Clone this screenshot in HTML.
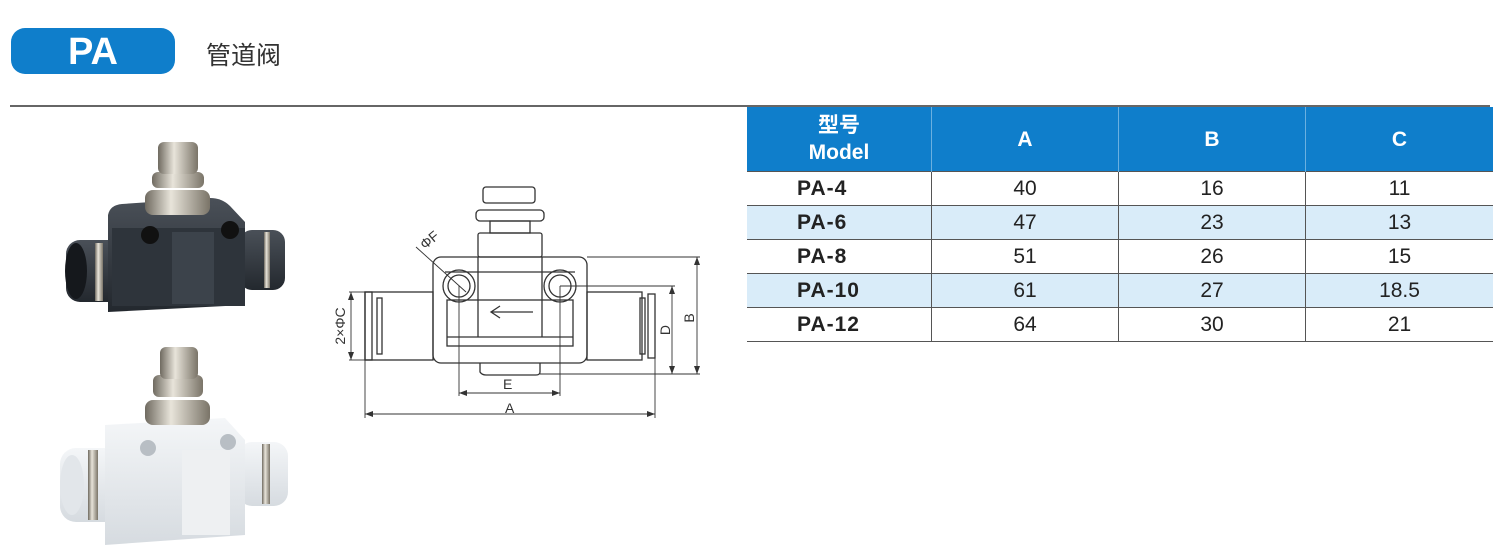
<!DOCTYPE html>
<html><head><meta charset="utf-8"><style>
body{margin:0;width:1500px;height:553px;background:#fff;position:relative;overflow:hidden;font-family:"Liberation Sans","Noto Sans CJK SC",sans-serif}
.pill{position:absolute;left:11px;top:28px;width:164px;height:46px;background:#0f7ecb;border-radius:14px;color:#fff;font-weight:bold;font-size:38px;text-align:center;line-height:48px}
.ttl{position:absolute;left:206px;top:36px;font-size:25px;color:#333}
.hr{position:absolute;left:10px;top:105px;width:1480px;height:2px;background:#666}
table{position:absolute;left:747px;top:107px;width:743px;table-layout:fixed;border-collapse:collapse;font-size:21px;color:#222}
td{border-left:1px solid #555;text-align:center;height:33px;padding:0}
td:first-child{border-left:none;font-weight:bold;text-align:left;padding-left:50px;letter-spacing:1px}
tr{border-bottom:1px solid #555}
th{background:#0f7ecb;color:#fff;font-size:21px;height:64px;border-left:1px solid #6ab0e0;font-weight:bold;line-height:27px;padding:0}
th:first-child{border-left:none}
tr.b{background:#d9ecf9}
</style></head><body>
<div class="pill">PA</div>
<div class="ttl">管道阀</div>
<div class="hr"></div>
<table>
<tr><th style="width:184px">型号<br>Model</th><th style="width:186px">A</th><th style="width:186px">B</th><th style="width:187px">C</th></tr>
<tr><td>PA-4</td><td>40</td><td>16</td><td>11</td></tr>
<tr class="b"><td>PA-6</td><td>47</td><td>23</td><td>13</td></tr>
<tr><td>PA-8</td><td>51</td><td>26</td><td>15</td></tr>
<tr class="b"><td>PA-10</td><td>61</td><td>27</td><td>18.5</td></tr>
<tr><td>PA-12</td><td>64</td><td>30</td><td>21</td></tr>
</table>

<svg width="1500" height="553" style="position:absolute;left:0;top:0">
<defs>
<linearGradient id="met" x1="0" x2="1"><stop offset="0" stop-color="#6f6a60"/><stop offset=".4" stop-color="#e8e4da"/><stop offset="1" stop-color="#7a7468"/></linearGradient>
<linearGradient id="dk" x1="0" y1="0" x2="0" y2="1"><stop offset="0" stop-color="#4a5058"/><stop offset="1" stop-color="#23282e"/></linearGradient>
<linearGradient id="wh" x1="0" y1="0" x2="0" y2="1"><stop offset="0" stop-color="#f4f6f8"/><stop offset="1" stop-color="#d6dbe0"/></linearGradient>
</defs>
<g>
<rect x="66" y="240" width="80" height="62" rx="14" fill="url(#dk)"/>
<rect x="240" y="230" width="45" height="60" rx="12" fill="url(#dk)"/>
<rect x="95" y="243" width="8" height="58" fill="url(#met)"/>
<rect x="264" y="232" width="6" height="56" fill="url(#met)"/>
<ellipse cx="76" cy="271" rx="11" ry="28" fill="#15181c"/>
<path d="M108 215 Q110 205 122 204 L210 198 Q222 198 230 206 L245 222 L245 305 L108 312 Z" fill="url(#dk)"/>
<rect x="112" y="228" width="133" height="78" fill="#2e343b"/>
<circle cx="150" cy="235" r="9" fill="#111"/><circle cx="230" cy="230" r="9" fill="#111"/>
<rect x="172" y="232" width="42" height="72" fill="#3c434b"/>
<rect x="145" y="190" width="65" height="25" rx="8" fill="url(#met)"/>
<rect x="152" y="172" width="52" height="16" rx="6" fill="url(#met)"/>
<rect x="158" y="142" width="40" height="32" rx="6" fill="url(#met)"/>
</g>
<g>
<rect x="60" y="448" width="82" height="74" rx="16" fill="url(#wh)"/>
<rect x="238" y="442" width="50" height="64" rx="14" fill="url(#wh)"/>
<rect x="88" y="450" width="10" height="70" fill="url(#met)"/>
<rect x="262" y="444" width="8" height="60" fill="url(#met)"/>
<ellipse cx="72" cy="485" rx="12" ry="30" fill="#e2e6ea"/>
<path d="M105 425 L225 418 L245 440 L245 535 L105 545 Z" fill="url(#wh)"/>
<circle cx="148" cy="448" r="8" fill="#b8bec4"/><circle cx="228" cy="442" r="8" fill="#b8bec4"/>
<rect x="182" y="450" width="48" height="85" fill="#eef0f2"/>
<rect x="145" y="400" width="65" height="25" rx="8" fill="url(#met)"/>
<rect x="153" y="375" width="50" height="22" rx="6" fill="url(#met)"/>
<rect x="160" y="347" width="38" height="32" rx="6" fill="url(#met)"/>
</g>
<g fill="none" stroke="#333" stroke-width="1.3">
<rect x="483" y="187" width="52" height="16" rx="3"/>
<rect x="476" y="210" width="68" height="11" rx="4"/>
<rect x="490" y="221" width="40" height="12"/>
<rect x="478" y="233" width="64" height="24" rx="2"/>
<rect x="433" y="257" width="154" height="106" rx="8"/>
<line x1="478" y1="257" x2="478" y2="337"/><line x1="542" y1="257" x2="542" y2="337"/>
<line x1="445" y1="272" x2="575" y2="272"/>
<rect x="447" y="300" width="126" height="46"/>
<line x1="447" y1="337" x2="573" y2="337"/>
<circle cx="459" cy="286" r="16"/><circle cx="459" cy="286" r="11"/>
<circle cx="560" cy="286" r="16"/><circle cx="560" cy="286" r="11"/>
<path d="M480 363 L480 372 Q482 375 486 375 L536 375 Q540 375 540 372 L540 363"/>
<rect x="365" y="292" width="68" height="68"/>
<rect x="365" y="292" width="7" height="68"/>
<rect x="377" y="298" width="5" height="56"/>
<rect x="587" y="292" width="55" height="68"/>
<rect x="648" y="294" width="7" height="64"/>
<rect x="640" y="298" width="5" height="56"/>
<path d="M500 306 L491 312 L500 318 M491 312 L533 312"/>
<g stroke-width="0.9">
<line x1="587" y1="257" x2="700" y2="257"/><line x1="560" y1="286" x2="675" y2="286"/>
<line x1="540" y1="374" x2="700" y2="374"/>
<line x1="697" y1="257" x2="697" y2="374"/><line x1="672" y1="286" x2="672" y2="374"/>
<line x1="351" y1="292" x2="351" y2="360"/><line x1="349" y1="292" x2="365" y2="292"/><line x1="349" y1="360" x2="365" y2="360"/>
<line x1="459" y1="286" x2="459" y2="396"/><line x1="560" y1="286" x2="560" y2="396"/>
<line x1="459" y1="393" x2="560" y2="393"/>
<line x1="365" y1="360" x2="365" y2="418"/><line x1="655" y1="358" x2="655" y2="418"/>
<line x1="365" y1="414" x2="655" y2="414"/>
<line x1="416" y1="247" x2="466" y2="292"/>
</g>
</g>
<g fill="#333">
<path d="M697 257 l-3 8 h6z M697 374 l-3 -8 h6z M672 286 l-3 8 h6z M672 374 l-3 -8 h6z M351 292 l-3 8 h6z M351 360 l-3 -8 h6z M459 393 l8 -3 v6z M560 393 l-8 -3 v6z M365 414 l8 -3 v6z M655 414 l-8 -3 v6z"/>
</g>
<g font-family="Liberation Sans,sans-serif" font-size="14" fill="#333">
<text x="503" y="389">E</text><text x="505" y="413">A</text>
<text transform="translate(670,330) rotate(-90)" text-anchor="middle">D</text>
<text transform="translate(694,318) rotate(-90)" text-anchor="middle">B</text>
<text transform="translate(345,326) rotate(-90)" text-anchor="middle">2×ΦC</text>
<text transform="translate(425,250) rotate(-40)">ΦF</text>
</g>
</svg>
</body></html>
